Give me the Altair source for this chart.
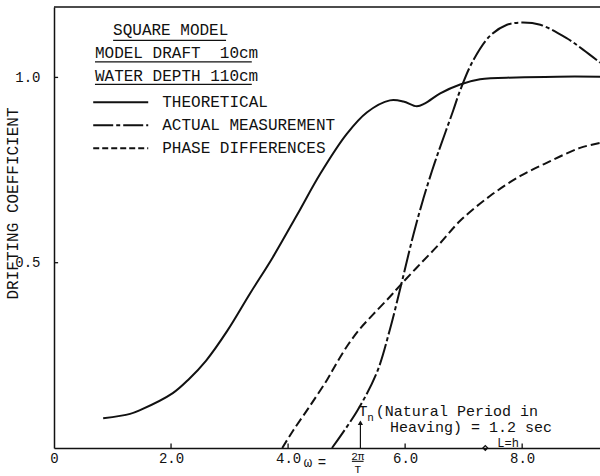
import altair as alt
import pandas as pd

# Drifting coefficient against wave frequency omega = 2*pi/T
theo_w = [0.84, 1.30, 1.47, 2.03, 2.30, 2.60, 2.96, 3.35, 3.74, 4.15, 4.55, 5.00, 5.35,
          5.74, 5.97, 6.20, 6.34, 6.60, 6.94, 7.28, 7.90, 8.60, 9.33]
theo_c = [0.080, 0.092, 0.102, 0.148, 0.185, 0.236, 0.316, 0.417, 0.515, 0.628, 0.740, 0.847, 0.906,
          0.938, 0.935, 0.922, 0.930, 0.957, 0.981, 0.995, 1.000, 1.002, 1.002]

meas_w = [4.75, 5.18, 5.52, 5.74, 5.95, 6.14, 6.31, 6.46, 6.56, 6.82, 6.94, 7.16,
          7.45, 7.74, 7.97, 8.31, 8.77, 9.04, 9.33]
meas_c = [0.000, 0.100, 0.205, 0.320, 0.452, 0.575, 0.672, 0.748, 0.795, 0.910, 0.965, 1.045,
          1.112, 1.142, 1.148, 1.142, 1.105, 1.075, 1.040]

phase_w = [3.90, 4.09, 4.38, 4.67, 4.84, 5.03, 5.23, 5.45, 5.74, 5.95, 6.26, 6.60,
           6.94, 7.45, 7.97, 8.48, 8.99, 9.33]
phase_c = [0.000, 0.048, 0.115, 0.185, 0.232, 0.280, 0.322, 0.360, 0.408, 0.445, 0.497, 0.553,
           0.613, 0.680, 0.734, 0.774, 0.810, 0.823]

x_ticks = [0, 2, 4, 6, 8]
y_ticks = [0.5, 1.0]

legend_heads = ["SQUARE MODEL", "MODEL DRAFT\u00a0 10cm", "WATER DEPTH 110cm"]
legend_series = ["THEORETICAL", "ACTUAL MEASUREMENT", "PHASE DIFFERENCES"]

natural_period = 1.2          # sec
omega_n = 2 * 3.141592653589793 / natural_period
omega_lh = 7.37               # frequency where wave length equals depth

X_MAX, Y_MAX = 9.33, 1.19
FONT = "Liberation Mono"
INK = "#111111"
FS = 16

DASH_MEAS = [22, 3, 4, 3]
DASH_PHASE = [9, 4]

xs = alt.Scale(domain=[0, X_MAX], nice=False, zero=False)
ys = alt.Scale(domain=[0, Y_MAX], nice=False, zero=False)


def X(field="w"):
    return alt.X(f"{field}:Q", scale=xs, axis=alt.Axis(
        values=x_ticks, grid=False, ticks=False, domain=True, title=None,
        labelExpr="datum.value == 0 ? '0' : format(datum.value, '.1f')",
        labelFlush=False, labelPadding=3, labelFont=FONT, labelFontSize=14,
        labelColor=INK, domainColor=INK, domainWidth=1.5))


def Y(field="c"):
    return alt.Y(f"{field}:Q", scale=ys, axis=alt.Axis(
        values=y_ticks, format=".1f", grid=False, ticks=False, domain=True,
        title="DRIFTING COEFFICIENT", titleFont=FONT, titleFontSize=FS,
        titleFontWeight="normal", titleColor=INK, titleX=-42, titleY=196,
        titleBaseline="middle", titleAlign="center",
        labelPadding=14, labelFont=FONT, labelFontSize=14, labelColor=INK,
        domainColor=INK, domainWidth=1.5))


def curve(ws, cs, dash=None):
    df = pd.DataFrame({"w": ws, "c": cs})
    kw = dict(color=INK, strokeWidth=2, interpolate="catmull-rom")
    if dash:
        kw["strokeDash"] = dash
    return alt.Chart(df).mark_line(**kw).encode(x=X(), y=Y())


def texts(rows, size=FS, align="left"):
    df = pd.DataFrame(rows, columns=["w", "c", "t"])
    return alt.Chart(df).mark_text(font=FONT, fontSize=size, align=align,
                                   baseline="middle", color=INK).encode(
        x=X(), y=Y(), text="t:N")


def rules(rows, width=1.3, dash=None):
    df = pd.DataFrame(rows, columns=["w", "w2", "c", "c2"])
    kw = dict(color=INK, strokeWidth=width)
    if dash:
        kw["strokeDash"] = dash
    return alt.Chart(df).mark_rule(**kw).encode(
        x=X(), x2="w2:Q", y=Y(), y2="c2:Q")


layers = [
    curve(theo_w, theo_c),
    curve(meas_w, meas_c, DASH_MEAS),
    curve(phase_w, phase_c, DASH_PHASE),
    # frame top edge and small inward ticks
    rules([(0, X_MAX, Y_MAX, Y_MAX)], width=1.5),
    rules([(v, v, 0, 0.012) for v in x_ticks[1:]] +
          [(0, 0.07, v, v) for v in y_ticks], width=1.3),
    # legend block
    texts([(1.01, 1.127, legend_heads[0]),
           (0.70, 1.066, legend_heads[1]),
           (0.70, 1.005, legend_heads[2])]),
    rules([(1.01, 2.94, 1.100, 1.100),
           (0.70, 3.38, 1.042, 1.042),
           (0.70, 3.38, 0.981, 0.981)], width=1.2),
    rules([(0.67, 1.61, 0.933, 0.933)], width=2),
    rules([(0.67, 1.61, 0.871, 0.871)], width=2, dash=[20, 3, 4, 3]),
    rules([(0.67, 1.61, 0.809, 0.809)], width=2, dash=[6, 3]),
    texts([(1.85, 0.933, legend_series[0]),
           (1.85, 0.871, legend_series[1]),
           (1.85, 0.809, legend_series[2])]),
    # natural period marker
    rules([(omega_n, omega_n, 0, 0.068)], width=1.2),
    alt.Chart(pd.DataFrame({"w": [omega_n], "c": [0.068]})).mark_point(
        shape="triangle-up", size=28, filled=True, color=INK, opacity=1).encode(x=X(), y=Y()),
    texts([(5.28, 0.101, "T")], size=15, align="center"),
    texts([(5.41, 0.082, "n")], size=11, align="center"),
    texts([(5.50, 0.101, "(Natural Period in"),
           (5.74, 0.056, f"Heaving) = {natural_period} sec")], size=15),
    # wave length equal to depth
    alt.Chart(pd.DataFrame({"w": [omega_lh], "c": [0.0]})).mark_point(
        shape="diamond", size=22, filled=False, color=INK, strokeWidth=1.3, opacity=1).encode(x=X(), y=Y()),
    texts([(7.76, 0.014, "L=h")], size=12, align="center"),
    # x axis title: omega = 2 pi / T
    texts([(4.34, -0.040, "ω"), (4.58, -0.040, "=")], size=14, align="center"),
    texts([(5.19, -0.023, "2π"), (5.19, -0.060, "T")], size=11, align="center"),
    rules([(5.09, 5.29, -0.036, -0.036)], width=1.1),
]

chart = alt.layer(*layers).properties(
    width=546, height=441,
    padding={"left": 54, "right": 0, "top": 7, "bottom": 28},
    autosize=alt.AutoSizeParams(type="none"),
    background="white",
).configure_view(stroke=None)

chart.save("out.html", embed_options={"renderer": "svg", "actions": False})
